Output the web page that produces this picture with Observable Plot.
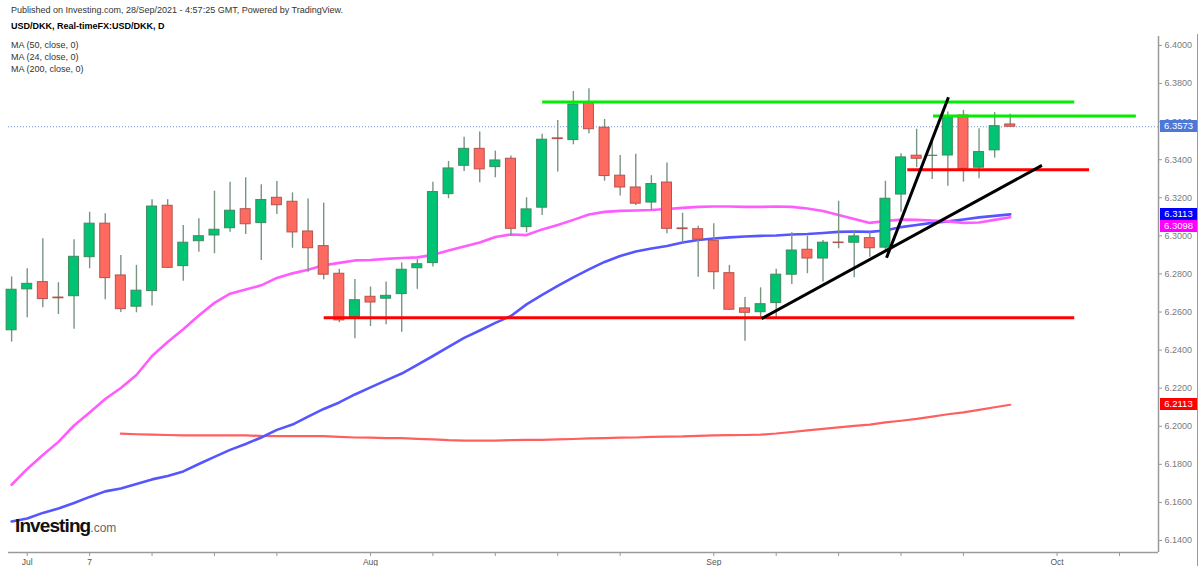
<!DOCTYPE html>
<html><head><meta charset="utf-8">
<script src="https://cdn.jsdelivr.net/npm/d3@7"></script>
<script src="https://cdn.jsdelivr.net/npm/@observablehq/plot@0.6"></script>
<style>
body{margin:0;background:#fff;font-family:"Liberation Sans",Arial,sans-serif;}
#wrap{position:relative;width:1200px;height:566px;overflow:hidden;background:#fff;}
#wrap svg{position:absolute;left:0;top:0;}
.hdr{position:absolute;left:11px;white-space:nowrap;color:#333;font-size:9px;line-height:11px;}
.lbl{position:absolute;left:1160px;width:37px;height:12px;line-height:12px;font-size:9.5px;color:#fff;text-align:center;}
#edge{position:absolute;left:1197px;top:34px;width:0;height:532px;border-left:1px solid #9a9a9a;}
#logo{position:absolute;left:15px;top:515px;white-space:nowrap;}
</style></head><body><div id="wrap"></div><script>
const dates = ["2021-06-30",
"2021-07-01","2021-07-02","2021-07-05","2021-07-06","2021-07-07","2021-07-08","2021-07-09","2021-07-12","2021-07-13","2021-07-14",
"2021-07-15","2021-07-16","2021-07-19","2021-07-20","2021-07-21","2021-07-22","2021-07-23","2021-07-26","2021-07-27","2021-07-28",
"2021-07-29","2021-07-30",
"2021-08-02","2021-08-03","2021-08-04","2021-08-05","2021-08-06","2021-08-09","2021-08-10","2021-08-11","2021-08-12","2021-08-13",
"2021-08-16","2021-08-17","2021-08-18","2021-08-19","2021-08-20","2021-08-23","2021-08-24","2021-08-25","2021-08-26","2021-08-27",
"2021-08-30","2021-08-31",
"2021-09-01","2021-09-02","2021-09-03","2021-09-06","2021-09-07","2021-09-08","2021-09-09","2021-09-10","2021-09-13","2021-09-14",
"2021-09-15","2021-09-16","2021-09-17","2021-09-20","2021-09-21","2021-09-22","2021-09-23","2021-09-24","2021-09-27","2021-09-28"];

const open  = [6.2504,6.2719,6.2757,6.2676,6.2683,6.2888,6.3064,6.2792,6.2628,6.2710,6.3158,6.2841,6.2972,6.3002,6.3040,6.3140,6.3067,6.3200,6.3179,6.3023,6.2946,6.2801,6.2573,6.2680,6.2670,6.2694,6.2830,6.2857,6.3219,6.3368,6.3457,6.3361,6.3405,6.3046,6.3148,6.3512,6.3503,6.3701,6.3568,6.3316,6.3254,6.3175,6.3280,6.3039,6.3035,6.2974,6.2804,6.2619,6.2599,6.2647,6.2796,6.2927,6.2881,6.2965,6.2964,6.2988,6.2938,6.3217,6.3421,6.3420,6.3422,6.3632,6.3358,6.3449,6.3585];
const high  = [6.2784,6.2827,6.2985,6.2754,6.2980,6.3124,6.3116,6.2897,6.2845,6.3190,6.3190,6.3055,6.3090,6.3235,6.3282,6.3305,6.3268,6.3286,6.3226,6.3193,6.3172,6.2824,6.2771,6.2731,6.2757,6.2857,6.2876,6.3282,6.3391,6.3518,6.3545,6.3445,6.3419,6.3200,6.3533,6.3606,6.3758,6.3773,6.3611,6.3422,6.3428,6.3316,6.3382,6.3119,6.3051,6.3064,6.2845,6.2676,6.2727,6.2825,6.3016,6.2998,6.2976,6.3182,6.3028,6.3019,6.3287,6.3431,6.3560,6.3492,6.3650,6.3659,6.3563,6.3647,6.3639];
const low   = [6.2442,6.2570,6.2622,6.2587,6.2510,6.2827,6.2664,6.2598,6.2596,6.2631,6.2829,6.2761,6.2914,6.2906,6.3019,6.3007,6.2871,6.3112,6.2935,6.2809,6.2769,6.2544,6.2460,6.2524,6.2533,6.2494,6.2719,6.2836,6.3195,6.3338,6.3279,6.3305,6.2998,6.3016,6.3107,6.3335,6.3478,6.3536,6.3287,6.3209,6.3160,6.3133,6.3011,6.2964,6.2783,6.2717,6.2608,6.2447,6.2565,6.2570,6.2745,6.2801,6.2757,6.2932,6.2780,6.2888,6.2923,6.3124,6.3358,6.3296,6.3261,6.3282,6.3300,6.3408,6.3570];
const close = [6.2717,6.2748,6.2668,6.2672,6.2890,6.3064,6.2778,6.2615,6.2712,6.3154,6.2832,6.2964,6.2998,6.3032,6.3132,6.3061,6.3188,6.3161,6.3018,6.2935,6.2796,6.2556,6.2662,6.2650,6.2685,6.2822,6.2851,6.3230,6.3354,6.3457,6.3349,6.3396,6.3037,6.3139,6.3505,6.3508,6.3690,6.3560,6.3314,6.3254,6.3169,6.3272,6.3037,6.3035,6.2980,6.2809,6.2612,6.2596,6.2641,6.2796,6.2923,6.2881,6.2964,6.2962,6.2997,6.2935,6.3195,6.3412,6.3405,6.3421,6.3620,6.3352,6.3440,6.3576,6.3573];

const ma24 = [6.1693,6.1776,6.1849,6.1918,6.2004,6.2072,6.2143,6.2201,6.2269,6.2369,6.2443,6.2509,6.2582,6.2648,6.2696,6.2718,6.2740,6.2779,6.2803,6.2822,6.2845,6.2858,6.2871,6.2873,6.2879,6.2884,6.2887,6.2900,6.2923,6.2944,6.2965,6.2994,6.3007,6.3004,6.3034,6.3057,6.3084,6.3112,6.3126,6.3131,6.3133,6.3136,6.3141,6.3147,6.3152,6.3154,6.3154,6.3152,6.3152,6.3154,6.3152,6.3144,6.3131,6.3110,6.3089,6.3068,6.3078,6.3085,6.3084,6.3081,6.3076,6.3068,6.3070,6.3084,6.3098];
const ma50 = [6.1500,6.1516,6.1545,6.1568,6.1597,6.1629,6.1658,6.1673,6.1697,6.1721,6.1739,6.1763,6.1802,6.1839,6.1876,6.1907,6.1941,6.1981,6.2009,6.2051,6.2091,6.2125,6.2167,6.2204,6.2241,6.2277,6.2322,6.2369,6.2417,6.2464,6.2503,6.2543,6.2579,6.2640,6.2690,6.2737,6.2782,6.2824,6.2863,6.2894,6.2918,6.2934,6.2947,6.2965,6.2978,6.2986,6.2992,6.2997,6.3000,6.3002,6.3007,6.3010,6.3015,6.3021,6.3023,6.3021,6.3028,6.3046,6.3057,6.3068,6.3076,6.3086,6.3097,6.3105,6.3113];
const ma200 = [null,null,null,null,null,null,null,6.1961,6.1958,6.1956,6.1954,6.1952,6.1952,6.1952,6.1952,6.1952,6.1949,6.1948,6.1948,6.1948,6.1948,6.1944,6.1941,6.1940,6.1938,6.1938,6.1934,6.1931,6.1927,6.1925,6.1925,6.1925,6.1927,6.1928,6.1929,6.1931,6.1933,6.1936,6.1938,6.1940,6.1941,6.1944,6.1946,6.1947,6.1950,6.1952,6.1953,6.1954,6.1956,6.1962,6.1970,6.1978,6.1986,6.1994,6.2002,6.2009,6.2020,6.2029,6.2039,6.2051,6.2063,6.2073,6.2086,6.2100,6.2113];

// x tick positions (bar index) and labels
const tickIndex = [1,5,9,13,17,23,27,31,35,39,45,49,53,57,61,67,71];
const tickText  = ["Jul","7","","","","Aug","","","","","Sep","","","","","Oct",""];
const yTicks = [6.14,6.16,6.18,6.20,6.22,6.24,6.26,6.28,6.30,6.32,6.34,6.36,6.38,6.40];

// drawn annotation lines (bar index, price)
const greenLines = [{x1:34.0, x2:68.1, p:6.3703},{x1:59.05, x2:72.05, p:6.3629}];
const redLines   = [{x1:20.0, x2:68.1, p:6.2570},{x1:57.4, x2:69.05, p:6.3347}];
const blackLines = [{x1:56.07, p1:6.2885, x2:60.04, p2:6.3728},{x1:48.06, p1:6.2565, x2:66.03, p2:6.3370}];

const candles = dates.map((d,i)=>({i, date:d, o:open[i], h:high[i], l:low[i], c:close[i]}));
const last = candles.length - 1;

const GREEN="#00c373", GREEN_S="#3f8a5e", RED="#ff6a60", RED_S="#b5524c", WICK="#7a9484";

const chart = Plot.plot({
  width: 1200, height: 566,
  marginTop: 36, marginBottom: 14, marginLeft: 8, marginRight: 42,
  style: {fontFamily: "'Liberation Sans', Arial, sans-serif", background: "transparent", overflow: "visible"},
  x: {domain: [-0.2, 73.5], axis: null},
  y: {domain: [6.1337, 6.4047], axis: null},
  marks: [
    Plot.ruleY([close[last]], {stroke: "#6f8fe0", strokeWidth: 1, strokeDasharray: "1,2"}),
    Plot.line(candles, {x: "i", y: d => ma200[d.i], stroke: "#ff5f5f", strokeWidth: 2.2, curve: "linear"}),
    Plot.line(candles, {x: "i", y: d => ma50[d.i], stroke: "#5656ff", strokeWidth: 2.6}),
    Plot.line(candles, {x: "i", y: d => ma24[d.i], stroke: "#ff5cff", strokeWidth: 2.6}),
    Plot.ruleX(candles, {x: "i", y1: "l", y2: "h", stroke: WICK, strokeWidth: 1.4}),
    Plot.rect(candles, {filter: d => d.c >= d.o, x1: d => d.i - 0.32, x2: d => d.i + 0.32, y1: "o", y2: "c", fill: GREEN, stroke: GREEN_S, strokeWidth: 1}),
    Plot.rect(candles, {filter: d => d.c < d.o, x1: d => d.i - 0.32, x2: d => d.i + 0.32, y1: "o", y2: "c", fill: RED, stroke: RED_S, strokeWidth: 1}),
    Plot.link(greenLines, {x1: "x1", x2: "x2", y1: "p", y2: "p", stroke: "#00ee00", strokeWidth: 3}),
    Plot.link(redLines, {x1: "x1", x2: "x2", y1: "p", y2: "p", stroke: "#ff0000", strokeWidth: 3}),
    Plot.link(blackLines, {x1: "x1", x2: "x2", y1: "p1", y2: "p2", stroke: "#000", strokeWidth: 3}),
    Plot.ruleY([6.1337], {stroke: "#9a9a9a", strokeWidth: 1.5}),
    Plot.ruleX([73.5], {stroke: "#9a9a9a", strokeWidth: 1.5}),
    Plot.axisY({anchor: "right", ticks: yTicks, tickFormat: d3.format(".4f"), tickSize: 3, tickPadding: 3, fontSize: 9, color: "#7a7a7a", stroke: "#9a9a9a"}),
    Plot.axisX({anchor: "bottom", ticks: tickIndex, tickFormat: d => tickText[tickIndex.indexOf(d)], tickSize: 4, tickPadding: 2, fontSize: 8.5, color: "#555", stroke: "#9a9a9a"})
  ]
});

const wrap = document.getElementById("wrap");
wrap.appendChild(chart);

const hdr = [
  ["Published on Investing.com, 28/Sep/2021 - 4:57:25 GMT, Powered by TradingView.", 5, "normal", "#333"],
  ["USD/DKK, Real-timeFX:USD/DKK, D", 21, "bold", "#000"],
  ["MA (50, close, 0)", 40, "normal", "#333"],
  ["MA (24, close, 0)", 52, "normal", "#333"],
  ["MA (200, close, 0)", 64, "normal", "#333"]
];
for (const [t, top, w, c] of hdr) {
  const el = document.createElement("div");
  el.className = "hdr"; el.textContent = t;
  el.style.top = top + "px"; el.style.fontWeight = w; el.style.color = c;
  wrap.appendChild(el);
}

const edge = document.createElement("div"); edge.id = "edge"; wrap.appendChild(edge);

const logo = document.createElement("div"); logo.id = "logo";
logo.innerHTML = '<span style="font-weight:bold;font-size:19px;letter-spacing:-0.9px;color:#111">Investing</span><span style="font-size:12px;color:#666">.com</span>';
wrap.appendChild(logo);

// price labels on the right axis, placed with the chart's own y scale
const ys = chart.scale("y");
const tags = [
  {v: close[last], bg: "#4d78d8"},
  {v: ma50[last], bg: "#0000ff"},
  {v: ma24[last], bg: "#ff00ff"},
  {v: ma200[last], bg: "#ff0000"}
].map(t => ({...t, top: ys.apply(t.v) - 6})).sort((a,b) => a.top - b.top);
let prevBottom = -Infinity;
for (const t of tags) {
  if (t.top < prevBottom) t.top = prevBottom;
  prevBottom = t.top + 12;
  const el = document.createElement("div");
  el.className = "lbl"; el.textContent = d3.format(".4f")(t.v);
  el.style.top = t.top + "px"; el.style.background = t.bg;
  wrap.appendChild(el);
}
</script></body></html>
